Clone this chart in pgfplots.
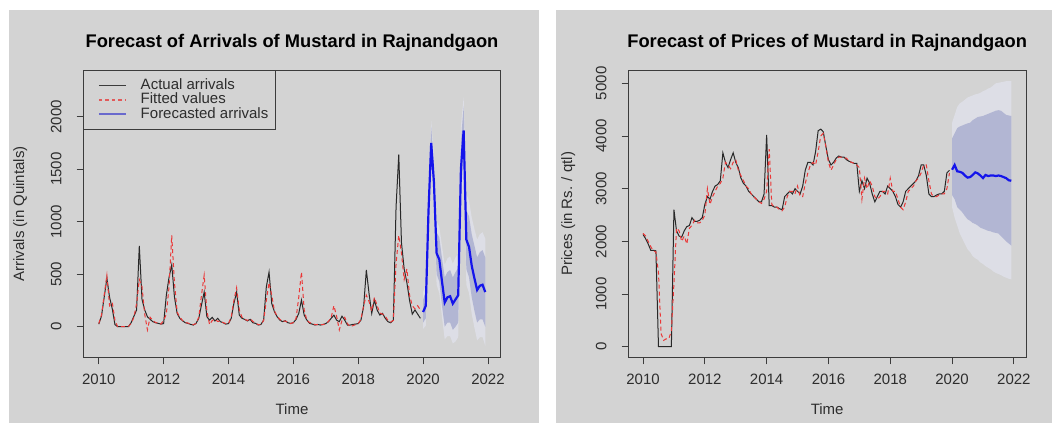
\documentclass[border=0pt]{standalone}
\usepackage{fontspec}
\setmainfont{Liberation Sans}
\usepackage{pgfplots}
\usepackage{pgfplotstable}
\pgfplotsset{compat=1.18}

\definecolor{bg}{RGB}{211,211,211}
\definecolor{c80}{RGB}{178,182,211}
\definecolor{c95}{RGB}{221,222,230}
\definecolor{actc}{RGB}{40,40,40}
\definecolor{fitc}{RGB}{235,55,55}
\definecolor{fcc}{RGB}{20,20,235}
\definecolor{axc}{RGB}{60,60,60}
\definecolor{txc}{RGB}{45,45,45}
\definecolor{legact}{RGB}{60,60,60}
\definecolor{legfit}{RGB}{225,90,90}
\definecolor{legfc}{RGB}{105,105,205}

% Arrivals: month index k (0 = Jan 2010), actual, fitted
\pgfplotstableread{
k act fit
0 25 30
1 100 110
2 280 300
3 460 490
4 280 200
5 170 230
6 20 60
7 0 0
8 0 0
9 0 0
10 0 0
11 0 5
12 40 30
13 100 90
14 160 220
15 770 450
16 260 380
17 160 120
18 95 -30
19 70 90
20 48 60
21 38 40
22 32 35
23 25 25
24 30 60
25 300 120
26 470 380
27 590 870
28 285 420
29 127 140
30 80 90
31 57 60
32 38 40
33 32 35
34 22 25
35 16 20
36 32 30
37 80 90
38 206 300
39 330 490
40 95 150
41 63 20
42 89 60
43 54 70
44 80 50
45 48 55
46 38 40
47 25 30
48 30 30
49 80 90
50 222 250
51 330 370
52 110 160
53 80 90
54 70 70
55 55 60
56 70 75
57 38 50
58 32 35
59 16 20
60 22 20
61 63 60
62 380 250
63 520 420
64 222 300
65 143 150
66 95 100
67 63 70
68 48 50
69 57 55
70 38 40
71 32 30
72 38 40
73 70 80
74 127 280
75 254 520
76 111 160
77 63 60
78 32 40
79 25 30
80 16 20
81 22 20
82 16 20
83 22 20
84 30 30
85 48 50
86 80 90
87 110 200
88 63 100
89 48 -30
90 100 60
91 63 90
92 16 30
93 16 0
94 22 10
95 25 20
96 30 30
97 63 70
98 190 200
99 540 300
100 317 240
101 127 150
102 254 280
103 159 200
104 111 130
105 127 120
106 80 100
107 48 60
108 38 45
109 63 60
110 1140 600
111 1640 870
112 800 700
113 550 450
114 420 550
115 250 300
116 120 200
117 160 170
118 120 200
119 80 160
}\arrhist

% Arrivals point forecast
\pgfplotstableread{
k fc
120 140
121 200
122 1100
123 1750
124 1380
125 700
126 640
127 430
128 230
129 280
130 290
131 220
132 260
133 300
134 1500
135 1870
136 830
137 760
138 580
139 460
140 350
141 390
142 400
143 330
}\arrfc

% Arrivals 95% interval (upper limits forward, lower limits backward)
\pgfplotstableread{
k v
120 330
121 400
122 1350
123 1960
124 1650
125 1000
126 950
127 770
128 590
129 650
130 670
131 600
132 660
133 700
134 1910
135 2190
136 1260
137 1200
138 1040
139 930
140 830
141 880
142 900
143 840
143 -180
142 -100
141 -100
140 -130
139 -10
138 120
137 320
136 400
135 1470
134 1090
133 -100
132 -140
131 -160
130 -90
129 -90
128 -120
127 90
126 320
125 400
124 1100
123 1500
122 870
121 10
120 -20
}\arrnn

% Arrivals 80% interval
\pgfplotstableread{
k v
120 260
121 330
122 1260
123 1900
124 1560
125 900
126 850
127 650
128 470
129 520
130 540
131 470
132 520
133 560
134 1770
135 2100
136 1110
137 1050
138 880
139 770
140 660
141 710
142 730
143 660
143 0
142 70
141 70
140 40
139 150
138 280
137 470
136 550
135 1600
134 1230
133 40
132 0
131 -30
130 40
129 40
128 0
127 200
126 430
125 500
124 1200
123 1580
122 950
121 80
120 40
}\arrei

% Prices: actual, fitted
\pgfplotstableread{
k act fit
0 2130 2150
1 2050 2100
2 1950 2000
3 1830 1900
4 1830 1820
5 1820 1800
6 0 1400
7 0 250
8 0 120
9 0 150
10 0 150
11 0 300
12 2600 1200
13 2200 2250
14 2100 2200
15 2080 2000
16 2200 2100
17 2280 1950
18 2300 2250
19 2450 2300
20 2380 2400
21 2380 2350
22 2400 2350
23 2450 2400
24 2700 2500
25 2850 3000
26 2800 2700
27 2950 2850
28 3050 2950
29 3080 3050
30 3150 3100
31 3680 3200
32 3500 3500
33 3400 3450
34 3550 3380
35 3680 3500
36 3500 3550
37 3400 3350
38 3200 3250
39 3100 3150
40 3050 3050
41 2950 3000
42 2900 2900
43 2850 2850
44 2800 2800
45 2750 2750
46 2750 2720
47 2900 2800
48 4020 2950
49 2680 3750
50 2680 2700
51 2650 2650
52 2650 2650
53 2620 2600
54 2600 2580
55 2850 2650
56 2900 2850
57 2950 2950
58 2900 2950
59 3000 2900
60 2950 3050
61 2900 2850
62 3050 2850
63 3350 3100
64 3500 3300
65 3500 3450
66 3450 3500
67 3700 3450
68 4100 3700
69 4130 4000
70 4080 4050
71 3800 3800
72 3550 3500
73 3450 3350
74 3500 3450
75 3580 3550
76 3620 3600
77 3600 3600
78 3600 3580
79 3550 3580
80 3520 3520
81 3500 3500
82 3480 3480
83 3480 3450
84 2950 3400
85 3150 2800
86 3000 3200
87 3200 3000
88 3100 3150
89 2900 3050
90 2750 2850
91 2850 2800
92 2950 2850
93 2950 2950
94 2900 2950
95 3050 2900
96 3000 3200
97 2950 2950
98 2850 2950
99 2700 2800
100 2650 2650
101 2750 2600
102 2950 2750
103 3000 2950
104 3050 3000
105 3100 3050
106 3150 3150
107 3250 3200
108 3450 3300
109 3450 3450
110 3250 3450
111 2900 3150
112 2850 2900
113 2850 2850
114 2880 2850
115 2900 2880
116 2900 2900
117 2950 2900
118 3300 3000
119 3350 3300
}\prihist

% Prices point forecast
\pgfplotstableread{
k fc
120 3360
121 3450
122 3330
123 3320
124 3300
125 3250
126 3210
127 3220
128 3260
129 3310
130 3290
131 3250
132 3200
133 3260
134 3240
135 3250
136 3250
137 3240
138 3250
139 3240
140 3220
141 3200
142 3160
143 3150
}\prifc

% Prices 95% interval
\pgfplotstableread{
k v
120 4250
121 4400
122 4550
123 4620
124 4650
125 4690
126 4730
127 4750
128 4770
129 4790
130 4800
131 4820
132 4850
133 4870
134 4900
135 4920
136 4960
137 5000
138 5010
139 5020
140 5030
141 5040
142 5040
143 5040
143 1280
142 1290
141 1310
140 1330
139 1360
138 1380
137 1400
136 1430
135 1470
134 1500
133 1530
132 1570
131 1600
130 1650
129 1680
128 1720
127 1800
126 1850
125 1950
124 2050
123 2150
122 2300
121 2450
120 2650
}\prinn

% Prices 80% interval
\pgfplotstableread{
k v
120 3950
121 4050
122 4150
123 4180
124 4200
125 4220
126 4240
127 4250
128 4300
129 4330
130 4360
131 4370
132 4380
133 4400
134 4420
135 4440
136 4460
137 4480
138 4490
139 4480
140 4440
141 4400
142 4390
143 4380
143 1920
142 1960
141 2000
140 2050
139 2100
138 2150
137 2160
136 2170
135 2190
134 2200
133 2220
132 2240
131 2260
130 2300
129 2330
128 2350
127 2390
126 2420
125 2480
124 2550
123 2600
122 2650
121 2800
120 2880
}\priei

\pgfplotsset{
  rstyle/.style={
    scale only axis,
    xmin=2009.523, xmax=2022.393,
    axis line style={axc, line width=0.9pt},
    tick style={axc, line width=0.9pt},
    tick align=outside,
    major tick length=6.7pt,
    xtick pos=left, ytick pos=left,
    xtick={2010,2012,2014,2016,2018,2020,2022},
    xticklabels={2010,2012,2014,2016,2018,2020,2022},
    tick label style={font=\fontsize{15}{15}\selectfont, text=txc},
    xticklabel style={anchor=north, inner sep=0pt},
    yticklabel style={rotate=90, anchor=south, inner sep=0pt},
    xticklabel shift=9pt,
    yticklabel shift=15pt,
    title style={at={(axis description cs:0.5,1)}, anchor=base, yshift=16.8pt,
      inner sep=0pt, font=\bfseries\fontsize{18.3}{18.3}\selectfont, text=black},
    every axis x label/.style={at={(axis description cs:0.5,0)}, anchor=center,
      yshift=-51.3pt, inner sep=0pt, font=\fontsize{15}{15}\selectfont, text=txc},
    every axis y label/.style={at={(axis description cs:-0.1509,0.5)}, rotate=90,
      anchor=center, inner sep=0pt, font=\fontsize{15}{15}\selectfont, text=txc},
    xlabel={Time},
  }
}

\begin{document}
\begin{tikzpicture}
\fill[white] (0pt,0pt) rectangle (1052pt,423pt);
\fill[bg] (8.5pt,0pt) rectangle (539.3pt,413pt);
\fill[bg] (555.7pt,0pt) rectangle (1052pt,413pt);

\begin{axis}[rstyle,
  at={(83.3pt,65.3pt)}, anchor=south west,
  width=417.4pt, height=287.7pt,
  ymin=-295, ymax=2445,
  ytick={0,500,1000,1500,2000},
  yticklabels={0,500,1000,1500,2000},
  title={Forecast of Arrivals of Mustard in Rajnandgaon},
  ylabel={Arrivals (in Quintals)},
  legend cell align=left,
  legend style={at={(axis description cs:0,1)}, anchor=north west,
    draw=axc, line width=0.9pt, fill=none, inner xsep=7.6pt, inner ysep=8.5pt,
    row sep=0.8pt, column sep=13.3pt,
    font=\fontsize{15}{15}\selectfont, text=txc,
    nodes={inner sep=0pt, text height=10.5pt, text depth=3pt}},
  legend image code/.code={\path (0pt,0pt) (34.1pt,0pt);
    \draw[#1] (6.4pt,0pt) -- (34.1pt,0pt);},
]
\addplot[fill=c95, draw=none, forget plot] table[x expr=2010+\thisrow{k}/12, y=v]{\arrnn} -- cycle;
\addplot[fill=c80, draw=none, forget plot] table[x expr=2010+\thisrow{k}/12, y=v]{\arrei} -- cycle;
\addplot[actc, line width=1pt, forget plot] table[x expr=2010+\thisrow{k}/12, y=act]{\arrhist};
\addplot[fitc, line width=1pt, dash pattern=on 4pt off 3pt, forget plot] table[x expr=2010+\thisrow{k}/12, y=fit]{\arrhist};
\addplot[fcc, line width=2.2pt, forget plot] table[x expr=2010+\thisrow{k}/12, y=fc]{\arrfc};
\addlegendimage{legact, line width=1pt}
\addlegendentry{Actual arrivals}
\addlegendimage{legfit, line width=1.1pt, dash pattern=on 3.5pt off 3pt}
\addlegendentry{Fitted values}
\addlegendimage{legfc, line width=2pt}
\addlegendentry{Forecasted arrivals}
\end{axis}

\begin{axis}[rstyle,
  at={(628.3pt,65.3pt)}, anchor=south west,
  width=397.7pt, height=287.7pt,
  ymin=-209, ymax=5253,
  ytick={0,1000,2000,3000,4000,5000},
  yticklabels={0,1000,2000,3000,4000,5000},
  title={Forecast of Prices of Mustard in Rajnandgaon},
  ylabel={Prices (in Rs. / qtl)},
]
\addplot[fill=c95, draw=none] table[x expr=2010+\thisrow{k}/12, y=v]{\prinn} -- cycle;
\addplot[fill=c80, draw=none] table[x expr=2010+\thisrow{k}/12, y=v]{\priei} -- cycle;
\addplot[actc, line width=1pt] table[x expr=2010+\thisrow{k}/12, y=act]{\prihist};
\addplot[fitc, line width=1pt, dash pattern=on 4pt off 3pt] table[x expr=2010+\thisrow{k}/12, y=fit]{\prihist};
\addplot[fcc, line width=2.2pt] table[x expr=2010+\thisrow{k}/12, y=fc]{\prifc};
\end{axis}
\end{tikzpicture}
\end{document}
